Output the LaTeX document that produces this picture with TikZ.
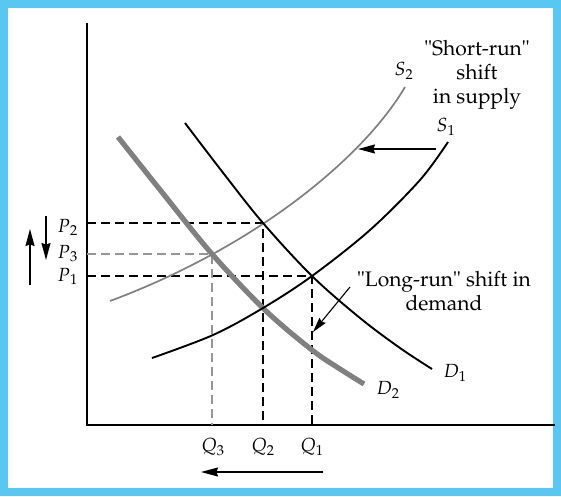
\documentclass[tikz,border=0pt]{standalone}
\usepackage[T1]{fontenc}
\usepackage{mathpazo}
\usetikzlibrary{arrows.meta}
\definecolor{frameblue}{RGB}{88,200,242}
\definecolor{curvegray}{RGB}{128,128,128}
\definecolor{dashgray}{RGB}{150,150,150}
\begin{document}
\begin{tikzpicture}[x=1pt,y=-1pt,
  lbl/.style={font=\fontsize{21}{24}\selectfont, inner sep=0pt},
  mlbl/.style={font=\fontsize{19}{22}\selectfont, inner sep=0pt},
  plbl/.style={font=\fontsize{19}{22}\selectfont, inner sep=0pt, anchor=base east},
  axisline/.style={line width=1.5pt},
  blackcurve/.style={line width=1.9pt, black},
  graycurve/.style={line width=1.7pt, curvegray},
  thickgray/.style={line width=5.2pt, curvegray},
  dashblack/.style={line width=1.3pt, dash pattern=on 9pt off 5pt},
  dashgrey/.style={line width=1.3pt, dashgray, dash pattern=on 9pt off 5pt},
  arr/.style={line width=1.4pt, -{Stealth[length=17pt,width=9pt,inset=1.5pt]}},
  smallarr/.style={line width=1.1pt, -{Stealth[length=15pt,width=8pt,inset=1.5pt]}}
]
\useasboundingbox (0,0) rectangle (561,496);
\fill[white] (0,0) rectangle (561,496);
\draw[frameblue, line width=8pt] (4,4) rectangle (557,492);

% axes
\coordinate (O) at (87,425);
\coordinate (Ytop) at (87,23);
\coordinate (Xend) at (555,425);
\draw[axisline] (Ytop) -- (O) -- (Xend);

% equilibrium points
\coordinate (E1) at (312,276);
\coordinate (E2) at (263,223);
\coordinate (E3) at (212,254);

% dashed guides
\draw[dashblack] (O |- E2) -- (E2) -- (E2 |- O);
\draw[dashblack] (O |- E1) -- (E1) -- (E1 |- O);
\draw[dashgrey] (O |- E3) -- (E3) -- (E3 |- O);

% curves
\draw[thickgray] plot[smooth, tension=0.55] coordinates {(118,137) (165,196) (212,254) (265,310) (312,350) (340,369) (364,384)};
\draw[graycurve] (110,301) .. controls (260,245) and (365,155) .. (405,87);
\draw[blackcurve] plot[smooth, tension=0.55] coordinates {(152,358) (213,335) (263,308) (312,276) (370,230) (420,180) (448,142)};
\draw[blackcurve] plot[smooth, tension=0.55] coordinates {(185,123) (224,174) (263,223) (312,276) (360,318) (400,348) (432,369)};

% labels
\node[mlbl] (S2) at (404,71) {$S_2$};
\node[mlbl] (S1) at (446,127) {$S_1$};
\node[mlbl] (D1) at (455,373) {$D_1$};
\node[mlbl] (D2) at (388,390) {$D_2$};
\node[lbl, align=center] (SR) at (477,75) {"Short-run"\\shift\\in supply};
\node[lbl, align=center] (LR) at (444,291) {"Long-run" shift in\\demand};
\node[plbl] (P2) at (78,232) {$P{}_2$};
\node[plbl] (P3) at (78,258) {$P{}_3$};
\node[plbl] (P1) at (78,281) {$P{}_1$};
\node[mlbl] (Q3) at (213,447) {$Q_3$};
\node[mlbl] (Q2) at (263,447) {$Q_2$};
\node[mlbl] (Q1) at (312,447) {$Q_1$};

% arrows
\coordinate (srA) at (436,149);
\coordinate (srB) at (358,149);
\draw[arr] (srA) -- (srB);
\coordinate (lrA) at (350,287);
\coordinate (lrB) at (313,332);
\draw[smallarr] (lrA) -- (lrB);
\coordinate (qA) at (323,472);
\coordinate (qB) at (201,472);
\draw[arr] (qA) -- (qB);
\coordinate (upA) at (30,285);
\coordinate (upB) at (30,229);
\draw[arr] (upA) -- (upB);
\coordinate (dnA) at (46,216);
\coordinate (dnB) at (46,260);
\draw[arr] (dnA) -- (dnB);
\end{tikzpicture}
\end{document}
